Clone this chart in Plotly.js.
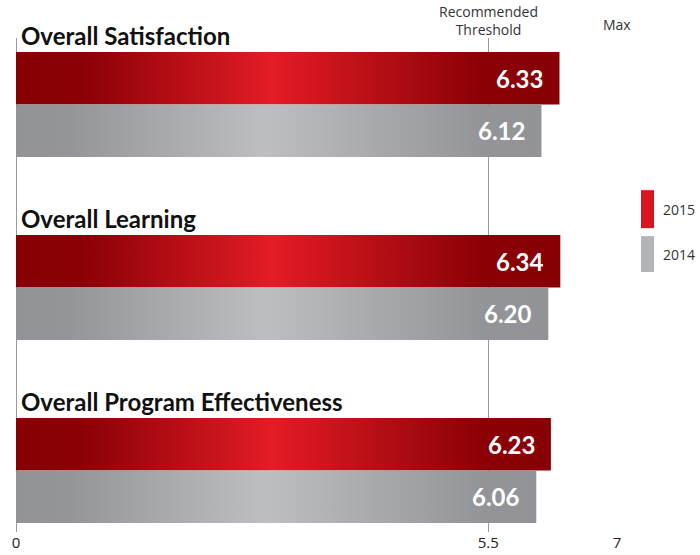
<!DOCTYPE html>
<html>
<head>
<meta charset="utf-8">
<script src="https://cdn.plot.ly/plotly-3.0.1.min.js"></script>
<style>html,body{margin:0;padding:0;background:#fff;}#chart{width:700px;height:555px;}</style>
</head>
<body>
<div id="chart"></div>
<script>
const categories = ['Overall Satisfaction', 'Overall Learning', 'Overall Program Effectiveness'];
const seriesNames = ['2015', '2014'];
const values2015 = [6.33, 6.34, 6.23];
const values2014 = [6.12, 6.20, 6.06];
const tickVals = [0, 5.5, 7];
const tickLabels = ['0', '5.5', '7'];
const refLabels = ['Recommended<br>Threshold', 'Max'];
const refVals = [5.5, 7];
const legendColors = ['#d9161f', '#b3b4b8'];

const H = 0.287; // one bar thickness in category units

function barPolys(values, top) {
  const xs = [], ys = [];
  values.forEach((v, i) => {
    const y0 = top ? i - H : i;
    const y1 = top ? i : i + H;
    xs.push(0, v, v, 0, 0, null);
    ys.push(y0, y0, y1, y1, y0, null);
  });
  return {xs, ys};
}

const red = barPolys(values2015, true);
const gray = barPolys(values2014, false);

const redScale = [[0, '#870005'], [0.12, '#8a0006'], [0.47, '#e31c25'], [0.86, '#8a0006'], [1, '#870005']];
const grayScale = [[0, '#929397'], [0.1, '#949599'], [0.47, '#bdbec2'], [0.88, '#939498'], [1, '#929397']];

const traces = [
  {
    type: 'scatter', mode: 'lines', name: seriesNames[0],
    x: red.xs, y: red.ys, fill: 'toself', connectgaps: false,
    line: {width: 0, color: '#e31c25'},
    fillcolor: '#c8141c',
    fillgradient: {type: 'horizontal', colorscale: redScale},
    hoverinfo: 'skip', showlegend: false
  },
  {
    type: 'scatter', mode: 'lines', name: seriesNames[1],
    x: gray.xs, y: gray.ys, fill: 'toself', connectgaps: false,
    line: {width: 0, color: '#b0b1b5'},
    fillcolor: '#abacb0',
    fillgradient: {type: 'horizontal', colorscale: grayScale},
    hoverinfo: 'skip', showlegend: false
  }
];

const annotations = [];
categories.forEach((c, i) => {
  annotations.push({
    x: 0, y: i - H, xref: 'x', yref: 'y', text: '<b>' + c + '</b>', showarrow: false,
    xanchor: 'left', yanchor: 'middle', xshift: 3, yshift: 16,
    font: {family: 'Lato, "Open Sans", sans-serif', size: 24, color: '#111'}
  });
});
values2015.forEach((v, i) => {
  annotations.push({
    x: v, y: i - H / 2, xref: 'x', yref: 'y', text: '<b>' + v.toFixed(2) + '</b>', showarrow: false,
    xanchor: 'right', yanchor: 'middle', xshift: -14,
    font: {family: 'Lato, "Open Sans", sans-serif', size: 24, color: '#ffffff'}
  });
});
values2014.forEach((v, i) => {
  annotations.push({
    x: v, y: i + H / 2, xref: 'x', yref: 'y', text: '<b>' + v.toFixed(2) + '</b>', showarrow: false,
    xanchor: 'right', yanchor: 'middle', xshift: -14,
    font: {family: 'Lato, "Open Sans", sans-serif', size: 24, color: '#ffffff'}
  });
});
refVals.forEach((v, i) => {
  annotations.push({
    x: v, y: 1, xref: 'x', yref: 'paper', text: refLabels[i], showarrow: false,
    xanchor: 'center', yanchor: 'bottom', yshift: i === 0 ? -3 : 2,
    font: {family: '"Open Sans", sans-serif', size: 14, color: '#333'}
  });
});

// manual legend (tall swatches like the reference)
const legTops = [0.692, 0.599];
const legBottoms = [0.615, 0.5263];
const shapes = [];
seriesNames.forEach((s, k) => {
  shapes.push({
    type: 'rect', xref: 'paper', yref: 'paper',
    x0: 1.0397, x1: 1.0613, y0: legBottoms[k], y1: legTops[k],
    fillcolor: legendColors[k], line: {width: 0}
  });
  annotations.push({
    x: 1.0728, y: (legTops[k] + legBottoms[k]) / 2, xref: 'paper', yref: 'paper',
    text: s, showarrow: false, xanchor: 'left', yanchor: 'middle',
    font: {family: '"Open Sans", sans-serif', size: 14, color: '#333'}
  });
});

const layout = {
  width: 700, height: 555,
  margin: {l: 13, r: 83, t: 38, b: 23, autoexpand: false},
  paper_bgcolor: '#ffffff', plot_bgcolor: '#ffffff',
  showlegend: false,
  xaxis: {
    range: [-0.035, 7], tickmode: 'array', tickvals: tickVals, ticktext: tickLabels,
    showgrid: true, gridcolor: '#9a9a9a', gridwidth: 1,
    zeroline: false, showline: false, ticks: '',
    tickfont: {family: '"Open Sans", sans-serif', size: 15, color: '#222'},
    fixedrange: true
  },
  yaxis: {
    range: [2.336, -0.363], showgrid: false, zeroline: false, showline: false,
    showticklabels: false, ticks: '', fixedrange: true
  },
  shapes: shapes,
  annotations: annotations
};

Plotly.newPlot('chart', traces, layout, {displayModeBar: false, staticPlot: true});
</script>
</body>
</html>
